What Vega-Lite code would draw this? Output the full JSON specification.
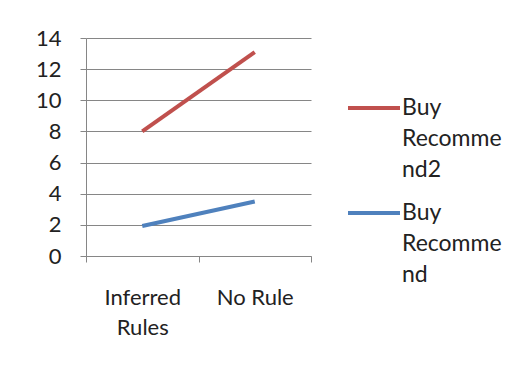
{
  "$schema": "https://vega.github.io/schema/vega-lite/v6.json",
  "width": 225,
  "height": 218,
  "autosize": {"type": "none"},
  "padding": {"left": 86, "top": 38, "right": 217, "bottom": 110},
  "background": "white",
  "data": {"values": [
    {"cat": "Inferred Rules", "series": "Buy Recommend2", "value": 8},
    {"cat": "No Rule", "series": "Buy Recommend2", "value": 13.1},
    {"cat": "Inferred Rules", "series": "Buy Recommend", "value": 1.93},
    {"cat": "No Rule", "series": "Buy Recommend", "value": 3.5}
  ]},
  "mark": {"type": "line", "strokeWidth": 4},
  "encoding": {
    "x": {
      "field": "cat", "type": "nominal",
      "scale": {"paddingInner": 0, "paddingOuter": 0},
      "axis": {
        "title": null, "labelAngle": 0, "tickBand": "extent",
        "labelExpr": "datum.label == 'Inferred Rules' ? ['Inferred', 'Rules'] : datum.label",
        "labelFont": "Lato", "labelFontSize": 22, "labelColor": "#222",
        "labelLineHeight": 30, "labelPadding": 35, "labelBaseline": "middle",
        "domainColor": "#868686", "tickColor": "#868686", "tickSize": 6, "grid": false
      }
    },
    "y": {
      "field": "value", "type": "quantitative",
      "scale": {"domain": [0, 14]},
      "axis": {
        "title": null, "values": [0, 2, 4, 6, 8, 10, 12, 14],
        "labelFont": "Lato", "labelFontSize": 22, "labelColor": "#222",
        "labelPadding": 19, "tickSize": 6,
        "domainColor": "#868686", "tickColor": "#868686",
        "gridColor": "#868686", "gridWidth": 1
      }
    },
    "color": {
      "field": "series", "type": "nominal",
      "scale": {"domain": ["Buy Recommend2", "Buy Recommend"], "range": ["#C0504D", "#4F81BD"]},
      "legend": {
        "title": null, "orient": "none", "legendX": 260, "legendY": 42,
        "symbolType": "stroke", "symbolSize": 2704, "symbolStrokeWidth": 4,
        "labelExpr": "datum.label == 'Buy Recommend2' ? ['Buy', 'Recomme', 'nd2'] : ['Buy', 'Recomme', 'nd']",
        "labelFont": "Lato", "labelFontSize": 23, "labelColor": "#222",
        "labelBaseline": "middle", "labelOffset": 0,
        "rowPadding": 3,
        "encode": {"labels": {"update": {"lineHeight": {"value": 31}}}}
      }
    }
  },
  "config": {"view": {"stroke": null}}
}
